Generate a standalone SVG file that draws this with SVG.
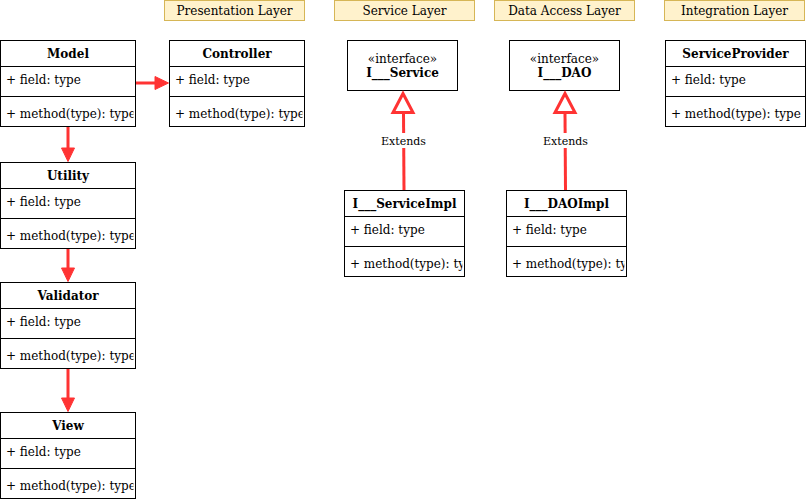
<svg xmlns="http://www.w3.org/2000/svg" width="806" height="502" viewBox="0 0 806 502">
<style>
.box{fill:#fff;stroke:#000;stroke-width:1}
.ln{stroke:#000;stroke-width:1}
.lay{fill:#fff2cc;stroke:#d6b656;stroke-width:1}
text{font-family:"DejaVu Serif",serif;font-size:12px;fill:#000}
.h{font-weight:bold;text-anchor:middle}
.c{text-anchor:middle}
.lbl{font-size:11px;text-anchor:middle}
.e{stroke:#ff3333;stroke-width:3;fill:none}
.hd{fill:#ff3333;stroke:#ff3333;stroke-width:1}
.tri{fill:#fff;stroke:#ff3333;stroke-width:3}
</style>
<defs>
<clipPath id="c135"><rect x="0" y="0" width="133" height="100"/></clipPath>
<clipPath id="c120"><rect x="0" y="0" width="118" height="100"/></clipPath>
<clipPath id="c140"><rect x="0" y="0" width="139" height="100"/></clipPath>
</defs>
<g id="layers">
<g id="presentation-layer"><rect class="lay" x="164.5" y="0.5" width="140" height="20"/><text class="c" x="234.5" y="15">Presentation Layer</text></g>
<g id="service-layer"><rect class="lay" x="334.5" y="0.5" width="140" height="20"/><text class="c" x="404.5" y="15">Service Layer</text></g>
<g id="data-access-layer"><rect class="lay" x="494.5" y="0.5" width="140" height="20"/><text class="c" x="564.5" y="15">Data Access Layer</text></g>
<g id="integration-layer"><rect class="lay" x="664.5" y="0.5" width="140" height="20"/><text class="c" x="734.5" y="15">Integration Layer</text></g>
</g>
<g id="Model" transform="translate(0.5,40.5)">
<rect class="box" width="135" height="86"/><line class="ln" x1="0" y1="26" x2="135" y2="26"/><line class="ln" x1="0" y1="56" x2="135" y2="56"/>
<text class="h" x="67.5" y="17.5">Model</text>
<g clip-path="url(#c135)"><text x="5.5" y="43.5">+ field: type</text><text x="5.5" y="77">+ method(type): type</text></g>
</g>
<g id="Controller" transform="translate(169.5,40.5)">
<rect class="box" width="135" height="86"/><line class="ln" x1="0" y1="26" x2="135" y2="26"/><line class="ln" x1="0" y1="56" x2="135" y2="56"/>
<text class="h" x="67.5" y="17.5">Controller</text>
<g clip-path="url(#c135)"><text x="5.5" y="43.5">+ field: type</text><text x="5.5" y="77">+ method(type): type</text></g>
</g>
<g id="Utility" transform="translate(0.5,162.5)">
<rect class="box" width="135" height="86"/><line class="ln" x1="0" y1="26" x2="135" y2="26"/><line class="ln" x1="0" y1="56" x2="135" y2="56"/>
<text class="h" x="67.5" y="17.5">Utility</text>
<g clip-path="url(#c135)"><text x="5.5" y="43.5">+ field: type</text><text x="5.5" y="77">+ method(type): type</text></g>
</g>
<g id="Validator" transform="translate(0.5,282.5)">
<rect class="box" width="135" height="86"/><line class="ln" x1="0" y1="26" x2="135" y2="26"/><line class="ln" x1="0" y1="56" x2="135" y2="56"/>
<text class="h" x="67.5" y="17.5">Validator</text>
<g clip-path="url(#c135)"><text x="5.5" y="43.5">+ field: type</text><text x="5.5" y="77">+ method(type): type</text></g>
</g>
<g id="View" transform="translate(0.5,412.5)">
<rect class="box" width="135" height="86"/><line class="ln" x1="0" y1="26" x2="135" y2="26"/><line class="ln" x1="0" y1="56" x2="135" y2="56"/>
<text class="h" x="67.5" y="17.5">View</text>
<g clip-path="url(#c135)"><text x="5.5" y="43.5">+ field: type</text><text x="5.5" y="77">+ method(type): type</text></g>
</g>
<g id="I___Service" transform="translate(347.5,40.5)">
<rect class="box" width="110" height="50"/>
<text class="c" x="55" y="22">«interface»</text>
<text class="h" x="55" y="36">I___Service</text>
</g>
<g id="I___DAO" transform="translate(509.5,40.5)">
<rect class="box" width="110" height="50"/>
<text class="c" x="55" y="22">«interface»</text>
<text class="h" x="55" y="36">I___DAO</text>
</g>
<g id="I___ServiceImpl" transform="translate(344.5,190.5)">
<rect class="box" width="120" height="86"/><line class="ln" x1="0" y1="26" x2="120" y2="26"/><line class="ln" x1="0" y1="56" x2="120" y2="56"/>
<text class="h" x="60" y="17.5">I___ServiceImpl</text>
<g clip-path="url(#c120)"><text x="5.5" y="43.5">+ field: type</text><text x="5.5" y="77">+ method(type): type</text></g>
</g>
<g id="I___DAOImpl" transform="translate(506.5,190.5)">
<rect class="box" width="120" height="86"/><line class="ln" x1="0" y1="26" x2="120" y2="26"/><line class="ln" x1="0" y1="56" x2="120" y2="56"/>
<text class="h" x="60" y="17.5">I___DAOImpl</text>
<g clip-path="url(#c120)"><text x="5.5" y="43.5">+ field: type</text><text x="5.5" y="77">+ method(type): type</text></g>
</g>
<g id="ServiceProvider" transform="translate(665.5,40.5)">
<rect class="box" width="140" height="86"/><line class="ln" x1="0" y1="26" x2="140" y2="26"/><line class="ln" x1="0" y1="56" x2="140" y2="56"/>
<text class="h" x="70" y="17.5">ServiceProvider</text>
<g clip-path="url(#c140)"><text x="5.5" y="43.5">+ field: type</text><text x="5.5" y="77">+ method(type): type</text></g>
</g>
<g id="connectors">
<line class="e" x1="136" y1="83" x2="157" y2="83"/><polygon class="hd" points="155,76.5 168.5,83 155,89.5"/>
<line class="e" x1="68" y1="127" x2="68" y2="150"/><polygon class="hd" points="61.5,148 68,161.5 74.5,148"/>
<line class="e" x1="68" y1="249" x2="68" y2="270"/><polygon class="hd" points="61.5,268 68,281.5 74.5,268"/>
<line class="e" x1="68" y1="369" x2="68" y2="400"/><polygon class="hd" points="61.5,398 68,411.5 74.5,398"/>
<line class="e" x1="403.5" y1="113" x2="404" y2="190"/><polygon class="tri" points="403,93.5 393,112.5 413,112.5"/>
<rect x="380" y="133" width="47" height="15" fill="#fff"/><text class="lbl" x="403.5" y="145">Extends</text>
<line class="e" x1="565" y1="113" x2="565.5" y2="190"/><polygon class="tri" points="565,93.5 555,112.5 575,112.5"/>
<rect x="542" y="133" width="47" height="15" fill="#fff"/><text class="lbl" x="565.5" y="145">Extends</text>
</g>
</svg>
